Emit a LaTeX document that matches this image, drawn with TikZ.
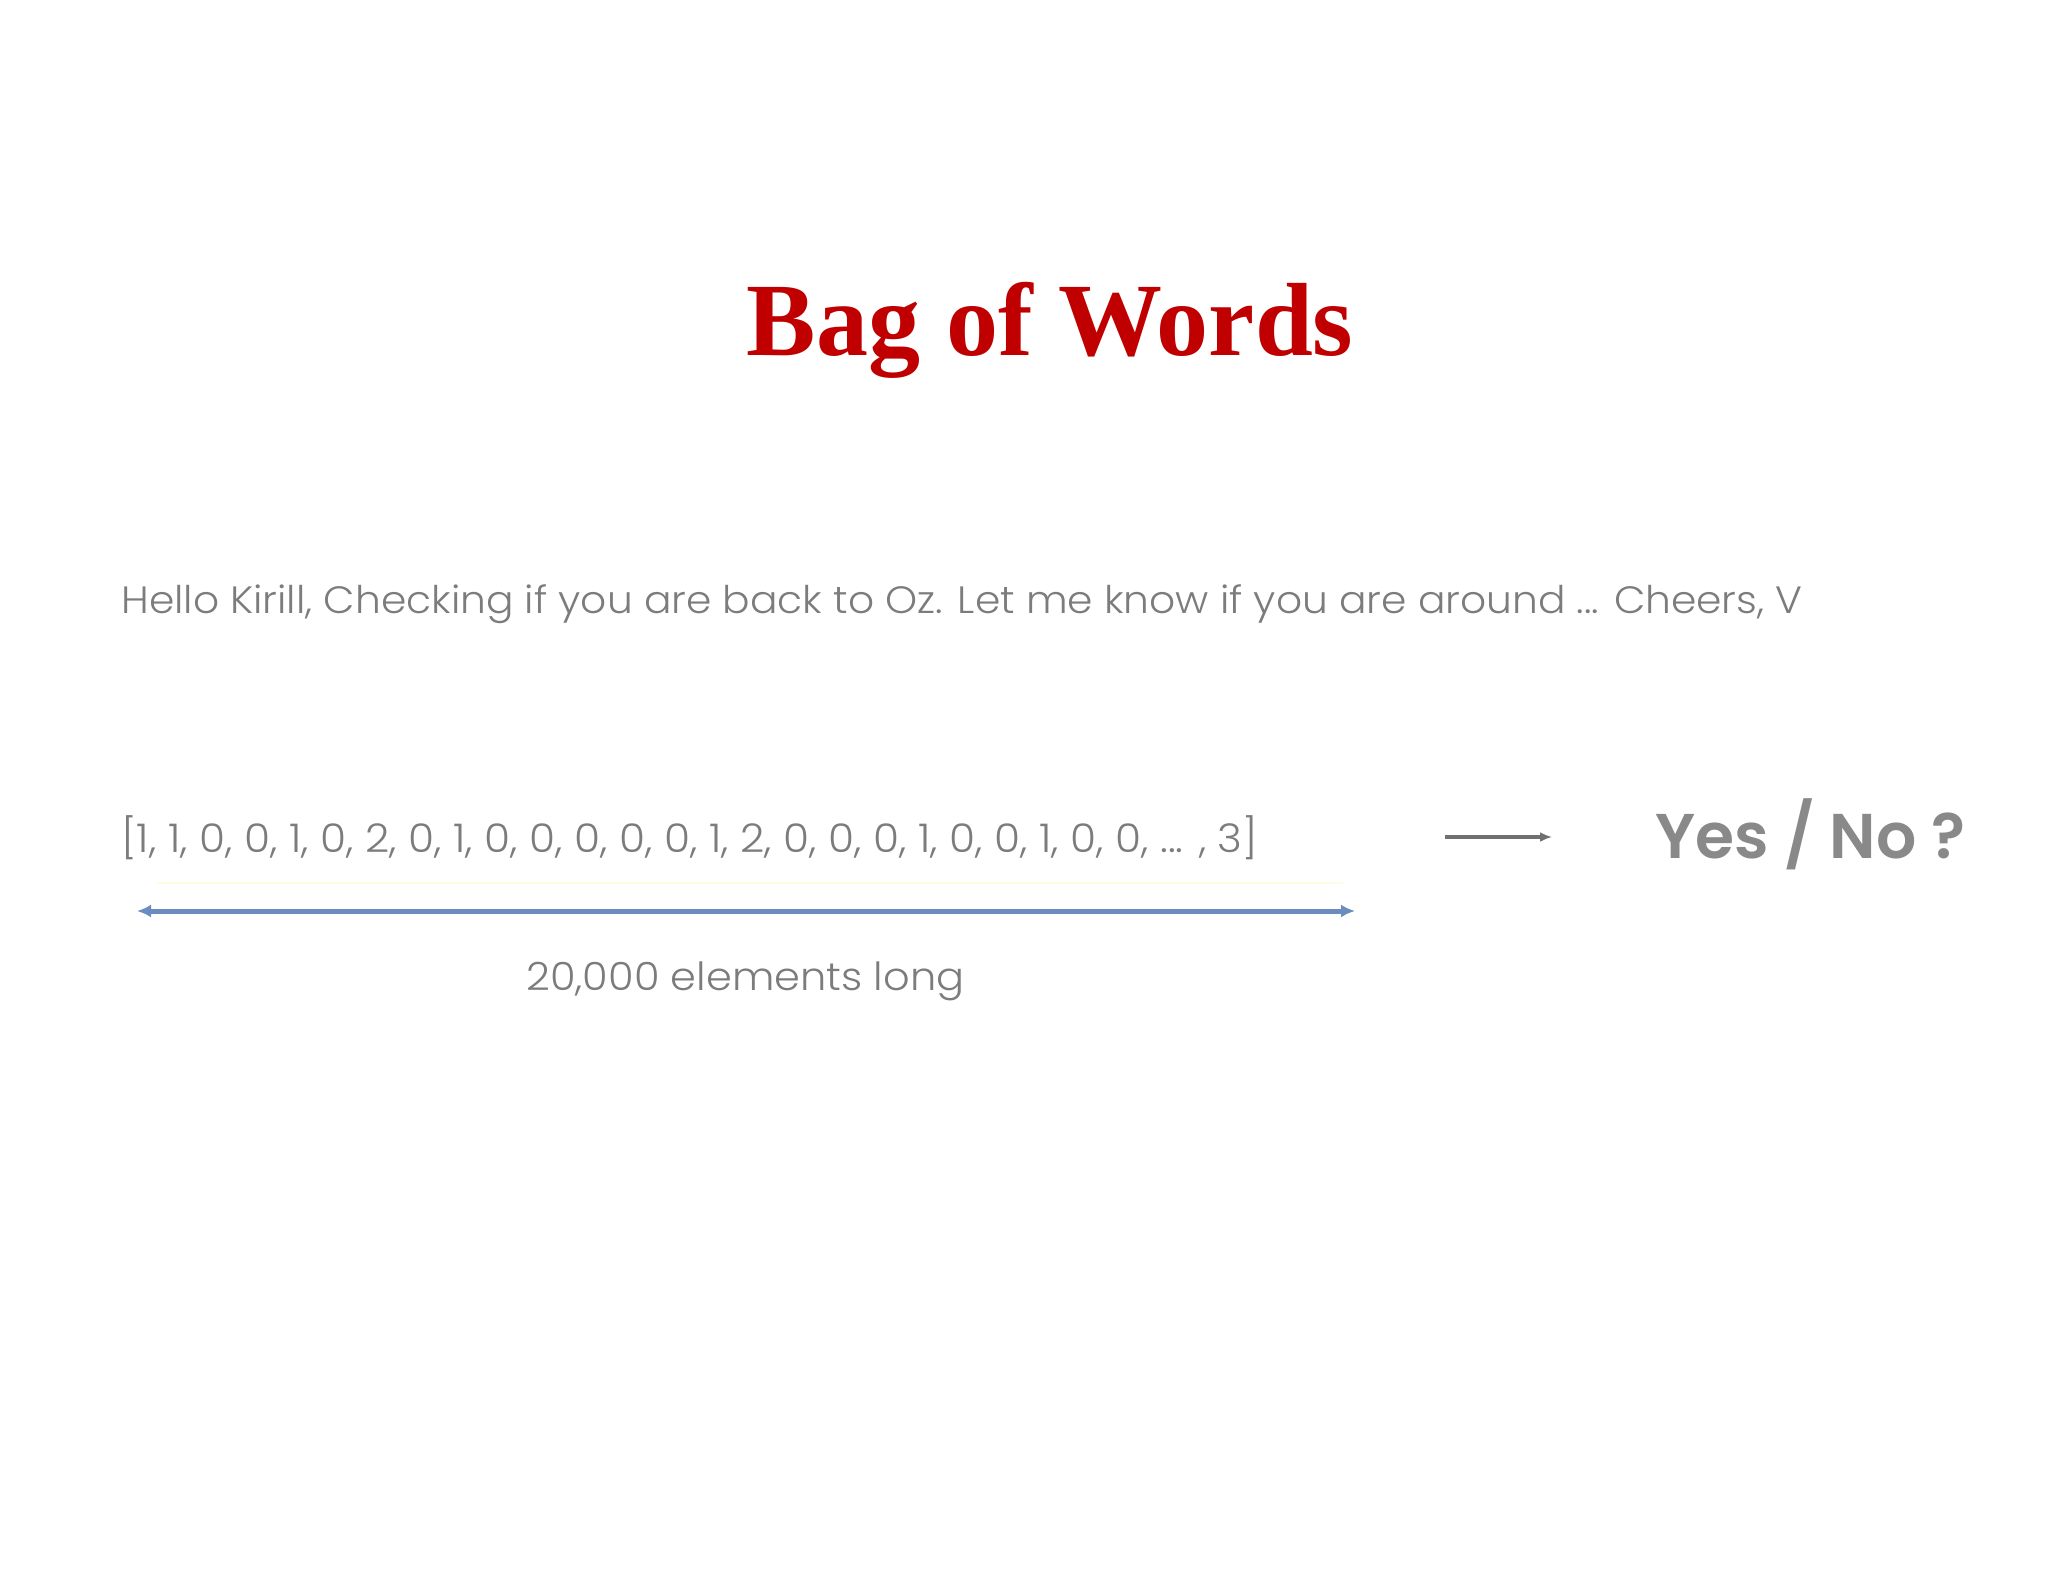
\documentclass[tikz,border=0pt]{standalone}
\usepackage{fontspec}
\setmainfont{Liberation Serif}
\newfontfamily\bowfont{Poppins}[UprightFont=* Light, FakeStretch=1.07]
\newfontfamily\ansfont{Poppins}[UprightFont=* SemiBold]
\usetikzlibrary{arrows.meta}
\definecolor{bowred}{HTML}{C00000}
\definecolor{bowgray}{HTML}{7C7C7C}
\definecolor{bowblue}{HTML}{6C8CC0}

\begin{document}
\begin{tikzpicture}[x=0.5pt,y=-0.5pt,
    txt/.style={inner sep=0pt,anchor=base west,text=bowgray},
    vecarrow/.style={bowblue,line width=2.5pt,{Latex[length=7pt,width=6.5pt]}-{Latex[length=7pt,width=6.5pt]}}]
    \useasboundingbox (0,0) rectangle (2048,1582);
    % title
    \node[inner sep=0pt,anchor=base,text=bowred,font=\bfseries\fontsize{52}{60}\selectfont]
      (title) at (1050,356) {Bag of Words};
    % email and its vector
    \node[txt,font=\bowfont\fontsize{19.05}{23}\selectfont] (mail) at (121,613)
      {Hello Kirill, Checking if you are back to Oz. Let me know if you are around ... Cheers, V};
    \node[txt,font=\bowfont\fontsize{19.75}{24}\selectfont] (vec) at (121,852)
      {[1, 1, 0, 0, 1, 0, 2, 0, 1, 0, 0, 0, 0, 0, 1, 2, 0, 0, 0, 1, 0, 0, 1, 0, 0, ... , 3]};
    \coordinate (lenL) at (137,911);
    \coordinate (lenR) at (1355,911);
    \draw[yellow!12,line width=1pt](157,883)--(1343,883);
    \draw[vecarrow](lenL)--(lenR);
    \node[txt,font=\bowfont\fontsize{19.4}{23}\selectfont] (len) at (526,990) {20,000 elements long};
    % answer
    \coordinate (arrS) at (1445,837);
    \coordinate (arrE) at (1552,837);
    \draw[bowgray!90!black,line width=1.6pt,-{Latex[length=6pt,width=5pt]}](arrS)--(arrE);
    \node[txt,text=bowgray!90,font=\ansfont\fontsize{31.6}{38}\selectfont] (ans) at (1655,858) {Yes / No ?};
  \end{tikzpicture}
\end{document}
